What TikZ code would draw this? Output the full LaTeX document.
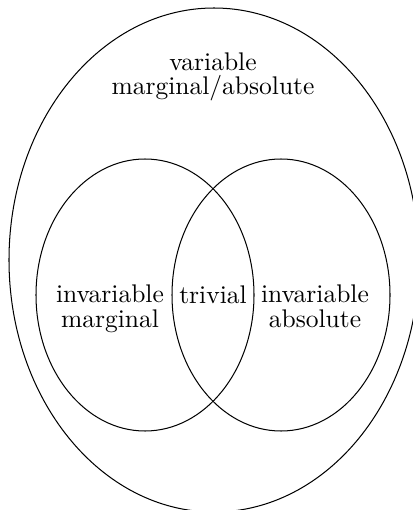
\documentclass[tikz,border=0pt]{standalone}
\usepackage{tikz}
\begin{document}
\begin{tikzpicture}[x=0.392pt, y=-0.392pt, font=\fontsize{10}{9.5}\selectfont,
    venntext/.style={align=center, inner sep=0pt, anchor=base}]
  \useasboundingbox (0,0) rectangle (412,510);
  % ensemble englobant
  \draw (214,260) ellipse (205 and 252);
  % les deux ensembles invariants
  \draw (145,295) ellipse (109 and 136);
  \draw (281,295) ellipse (109 and 136);
  \node[venntext] (var) at (213,95) {variable\\marginal/absolute};
  \node[venntext] (marg) at (110,327) {invariable\\marginal};
  \node[venntext] (triv) at (213,303) {trivial};
  \node[venntext] (abs) at (315,327) {invariable\\absolute};
\end{tikzpicture}
\end{document}
